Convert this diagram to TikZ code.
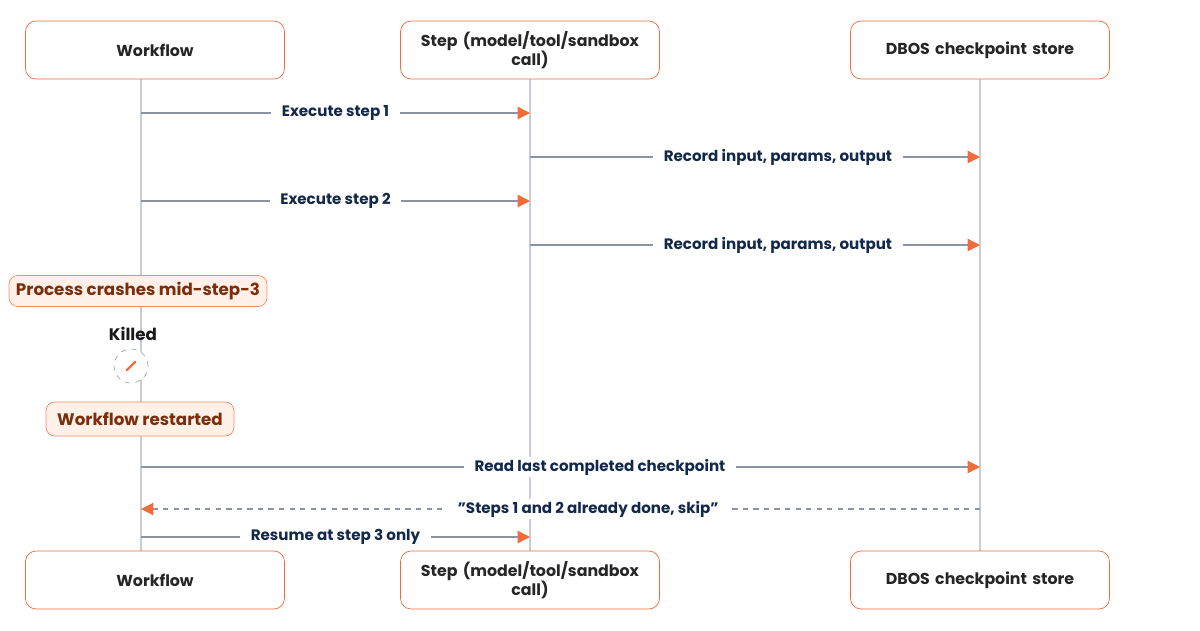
\documentclass[tikz,border=0pt]{standalone}
\usepackage{fontspec}
\setmainfont{Poppins}
\usetikzlibrary{arrows.meta}
\definecolor{accent}{HTML}{F26B3A}
\definecolor{navy}{HTML}{13294B}
\definecolor{wire}{HTML}{8A94A6}
\definecolor{life}{HTML}{C8CDD8}
\definecolor{notefill}{HTML}{FFF1E8}
\definecolor{notetext}{HTML}{7A2E0E}
\tikzset{
  actor/.style={draw=accent, fill=white, rounded corners=6, minimum width=5.18cm, minimum height=1.16cm,
    align=center, text width=4.6cm, font=\fontsize{9}{11}\selectfont\bfseries, text=black!85},
  note/.style={draw=accent!80, fill=notefill, rounded corners=5, inner sep=0pt,
    font=\fontsize{9.5}{11}\selectfont\bfseries, text=notetext},
  msg/.style={wire, line width=0.7pt, -{Triangle[length=7pt,width=7pt,fill=accent,color=accent]}},
  lbl/.style={fill=white, inner xsep=6pt, inner ysep=1pt, font=\fontsize{8.6}{10}\selectfont\bfseries, text=navy}
}
\begin{document}
\begin{tikzpicture}[x=0.02cm, y=-0.02cm]
        \useasboundingbox (0,0) rectangle (1200,630);
        % lifelines
        \foreach \xx in {141, 530, 980} {
            \draw[life, line width=0.8pt] (\xx,79) -- (\xx,551);
        }
        % actors
        \node[actor] (wfTop) at (155,50) {Workflow};
        \node[actor] (stTop) at (530,50) {Step (model/tool/sandbox call)};
        \node[actor] (dbTop) at (980,50) {DBOS checkpoint store};
        \node[actor] (wfBot) at (155,580) {Workflow};
        \node[actor] (stBot) at (530,580) {Step (model/tool/sandbox call)};
        \node[actor] (dbBot) at (980,580) {DBOS checkpoint store};
        % message end points
        \foreach \yy/\nm in {113/a, 157/b, 201/c, 245/d, 467/e, 509/f, 537/g} {
            \coordinate (wf\nm) at (141,\yy);
            \coordinate (st\nm) at (530,\yy);
            \coordinate (db\nm) at (980,\yy);
        }
        % messages
        \draw[msg] (wfa) -- node[lbl] {Execute step 1} (sta);
        \draw[msg] (stb) -- node[lbl, pos=0.551] {Record input, params, output} (dbb);
        \draw[msg] (wfc) -- node[lbl] {Execute step 2} (stc);
        \draw[msg] (std) -- node[lbl, pos=0.551] {Record input, params, output} (dbd);
        % crash
        \node[note, minimum width=5.16cm, minimum height=0.62cm] (crash) at (138,291) {Process crashes mid-step-3};
        \node[font=\fontsize{9.5}{11}\selectfont\bfseries, text=black!90] (killed) at (133,334) {Killed};
        \node[circle, draw=wire!80, dashed, fill=white, minimum size=0.68cm, inner sep=0pt] (icon) at (131,366) {};
        \draw[accent, line width=1.3pt, line cap=round] (icon.center) +(-4,4) -- +(4,-4);
        \node[note, minimum width=3.76cm, minimum height=0.68cm] (restart) at (140,419) {Workflow restarted};
        % recovery
        \draw[msg] (wfe) -- node[lbl, pos=0.547] {Read last completed checkpoint} (dbe);
        \draw[msg, dashed] (dbf) -- node[lbl, pos=0.467] {\symbol{34}Steps 1 and 2 already done, skip\symbol{34}} (wff);
        \draw[msg] (wfg) -- node[lbl] {Resume at step 3 only} (stg);
\end{tikzpicture}
\end{document}
